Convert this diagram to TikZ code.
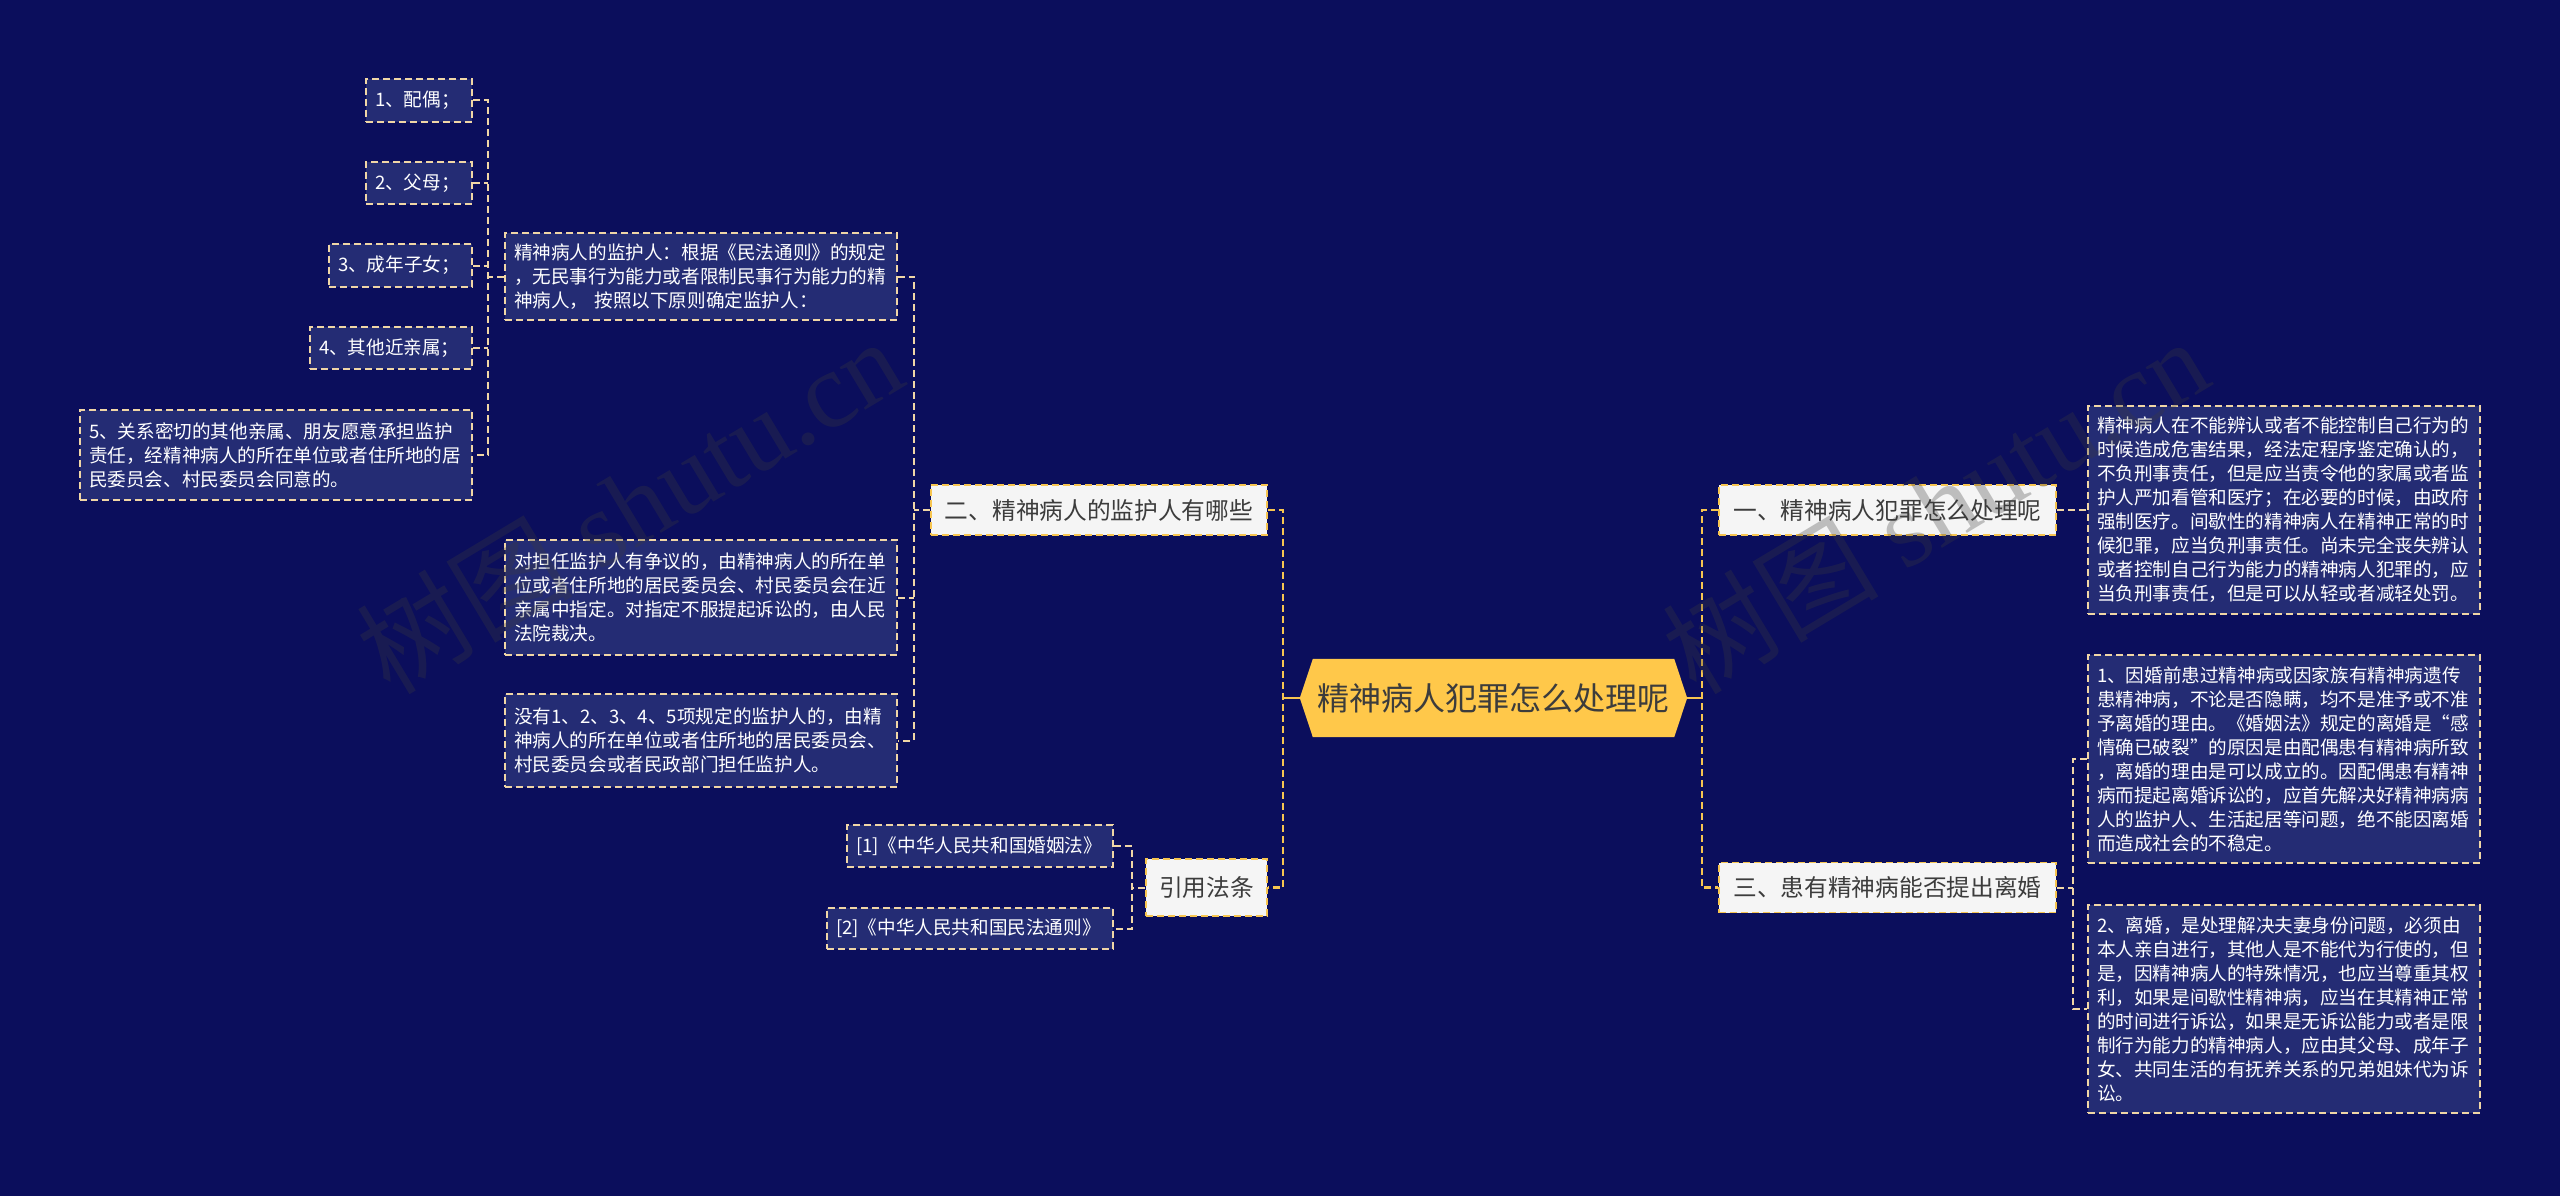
\documentclass[tikz,border=0pt]{standalone}
\usepackage{fontspec}
\newfontfamily\cjk{Noto Sans CJK SC}
\newfontfamily\wmlatin{Liberation Serif}
\usetikzlibrary{backgrounds}
\definecolor{bgnavy}{RGB}{11,14,92}
\definecolor{boxfill}{RGB}{36,44,116}
\definecolor{cream}{RGB}{240,214,166}
\definecolor{gold}{RGB}{247,197,80}
\definecolor{rootfill}{RGB}{255,200,74}
\definecolor{lightfill}{RGB}{245,245,245}
\definecolor{darktext}{RGB}{60,60,60}
\definecolor{wmgray}{RGB}{60,60,60}
\tikzset{
  leaf/.style={draw=cream, fill=boxfill, dash pattern=on 7pt off 4pt, line width=1.8pt,
    text=white, font=\cjk\fontsize{18.6}{24}\selectfont, align=left,
    inner xsep=9pt, inner ysep=0pt},
  lvone/.style={draw=gold, fill=lightfill, dash pattern=on 7pt off 4pt, line width=1.8pt,
    text=darktext, font=\cjk\fontsize{23.7}{28}\selectfont, align=center,
    inner xsep=0pt, inner ysep=0pt},
  rootnode/.style={text=darktext, font=\cjk\fontsize{32}{36}\selectfont,
    minimum width=387pt, minimum height=78pt, inner sep=0pt},
  conn/.style={draw=cream, dash pattern=on 7pt off 4pt, line width=2pt},
  rconn/.style={draw=gold, dash pattern=on 7pt off 4pt, line width=2.4pt},
  rootconn/.style={draw=gold, line width=2.6pt},
  wm/.style={text=wmgray, opacity=0.3, font=\wmlatin\fontsize{108}{108}\selectfont, rotate=31}
}
\begin{document}
\begin{tikzpicture}[x=1pt,y=-1pt]
\begin{scope}[on background layer]
\fill[bgnavy] (0,0) rectangle (2560,1196);
\end{scope}
\useasboundingbox (0,0) rectangle (2560,1196);

% root
\node[rootnode] (root) at (1493.5,698) {精神病人犯罪怎么处理呢};
\begin{scope}[on background layer]
\fill[rootfill] (root.west) -- ([xshift=13pt]root.north west) -- ([xshift=-13pt]root.north east)
  -- (root.east) -- ([xshift=-13pt]root.south east) -- ([xshift=13pt]root.south west) -- cycle;
\end{scope}

% level one
\node[lvone, minimum width=337pt, minimum height=50pt] (one) at (1887.5,510) {一、精神病人犯罪怎么处理呢};
\node[lvone, minimum width=337pt, minimum height=50pt] (three) at (1887.5,887.5) {三、患有精神病能否提出离婚};
\node[lvone, minimum width=336pt, minimum height=50pt] (two) at (1099,510) {二、精神病人的监护人有哪些};
\node[lvone, minimum width=121pt, minimum height=57pt] (law) at (1206.5,887.5) {引用法条};

% right leaves
\node[leaf, text width=374pt, minimum height=208pt] (r1) at (2284,510) {精神病人在不能辨认或者不能控制自己行为的\\时候造成危害结果，经法定程序鉴定确认的，\\不负刑事责任，但是应当责令他的家属或者监\\护人严加看管和医疗；在必要的时候，由政府\\强制医疗。间歇性的精神病人在精神正常的时\\候犯罪，应当负刑事责任。尚未完全丧失辨认\\或者控制自己行为能力的精神病人犯罪的，应\\当负刑事责任，但是可以从轻或者减轻处罚。};
\node[leaf, text width=374pt, minimum height=208pt] (r2) at (2284,759) {1、因婚前患过精神病或因家族有精神病遗传\\患精神病，不论是否隐瞒，均不是准予或不准\\予离婚的理由。《婚姻法》规定的离婚是“感\\情确已破裂”的原因是由配偶患有精神病所致\\，离婚的理由是可以成立的。因配偶患有精神\\病而提起离婚诉讼的，应首先解决好精神病病\\人的监护人、生活起居等问题，绝不能因离婚\\而造成社会的不稳定。};
\node[leaf, text width=374pt, minimum height=208pt] (r3) at (2284,1009) {2、离婚，是处理解决夫妻身份问题，必须由\\本人亲自进行，其他人是不能代为行使的，但\\是，因精神病人的特殊情况，也应当尊重其权\\利，如果是间歇性精神病，应当在其精神正常\\的时间进行诉讼，如果是无诉讼能力或者是限\\制行为能力的精神病人，应由其父母、成年子\\女、共同生活的有抚养关系的兄弟姐妹代为诉\\讼。};

% left leaves
\node[leaf, text width=374pt, minimum height=87pt] (la) at (701,276.5) {精神病人的监护人：根据《民法通则》的规定\\，无民事行为能力或者限制民事行为能力的精\\神病人， 按照以下原则确定监护人：};
\node[leaf, text width=374pt, minimum height=115pt] (lb) at (701,597.5) {对担任监护人有争议的，由精神病人的所在单\\位或者住所地的居民委员会、村民委员会在近\\亲属中指定。对指定不服提起诉讼的，由人民\\法院裁决。};
\node[leaf, text width=374pt, minimum height=93pt] (lc) at (701,740.5) {没有1、2、3、4、5项规定的监护人的，由精\\神病人的所在单位或者住所地的居民委员会、\\村民委员会或者民政部门担任监护人。};

\node[leaf, text width=88pt, minimum height=43pt] (c1) at (419,100.5) {1、配偶；};
\node[leaf, text width=88pt, minimum height=42pt] (c2) at (419,183) {2、父母；};
\node[leaf, text width=125pt, minimum height=43pt] (c3) at (400.5,265.5) {3、成年子女；};
\node[leaf, text width=144pt, minimum height=42pt] (c4) at (391,348) {4、其他近亲属；};
\node[leaf, text width=374pt, minimum height=90pt] (c5) at (276,455) {5、关系密切的其他亲属、朋友愿意承担监护\\责任，经精神病人的所在单位或者住所地的居\\民委员会、村民委员会同意的。};

\node[leaf, text width=248pt, minimum height=42pt] (f1) at (980,846) {[1]《中华人民共和国婚姻法》};
\node[leaf, text width=268pt, minimum height=41pt] (f2) at (970,928.5) {[2]《中华人民共和国民法通则》};

% junctions
\coordinate (rj) at (1702,698);
\coordinate (lj) at (1283,698);
\coordinate (tj) at (2073,887.5);
\coordinate (aj) at (914,510);
\coordinate (cj) at (488,276.5);
\coordinate (fj) at (1132,887.5);

% connectors
\draw[rootconn] (root.east) -- (rj);
\draw[rootconn] (root.west) -- (lj);
\draw[rconn] (one.west) -- (one.west -| rj) -- (three.west -| rj) -- (three.west);
\draw[rconn] (two.east) -- (two.east -| lj) -- (law.east -| lj) -- (law.east);

\draw[conn] (one.east) -- (r1.west);
\draw[conn] (three.east) -- (tj);
\draw[conn] (r2.west) -- (r2.west -| tj) -- (r3.west -| tj) -- (r3.west);

\draw[conn] (two.west) -- (aj);
\draw[conn] (la.east) -- (la.east -| aj) -- (lc.east -| aj) -- (lc.east);
\draw[conn] (lb.east) -- (lb.east -| aj);

\draw[conn] (la.west) -- (cj);
\draw[conn] (c1.east) -- (c1.east -| cj) -- (c5.east -| cj) -- (c5.east);
\draw[conn] (c2.east) -- (c2.east -| cj);
\draw[conn] (c3.east) -- (c3.east -| cj);
\draw[conn] (c4.east) -- (c4.east -| cj);

\draw[conn] (law.west) -- (fj);
\draw[conn] (f1.east) -- (f1.east -| fj) -- (f2.east -| fj) -- (f2.east);

% watermarks
\node[wm] (wm1) at (629,505) {{\cjk 树图} shutu.cn};
\node[wm] (wm2) at (1935,505) {{\cjk 树图} shutu.cn};
\end{tikzpicture}
\end{document}
